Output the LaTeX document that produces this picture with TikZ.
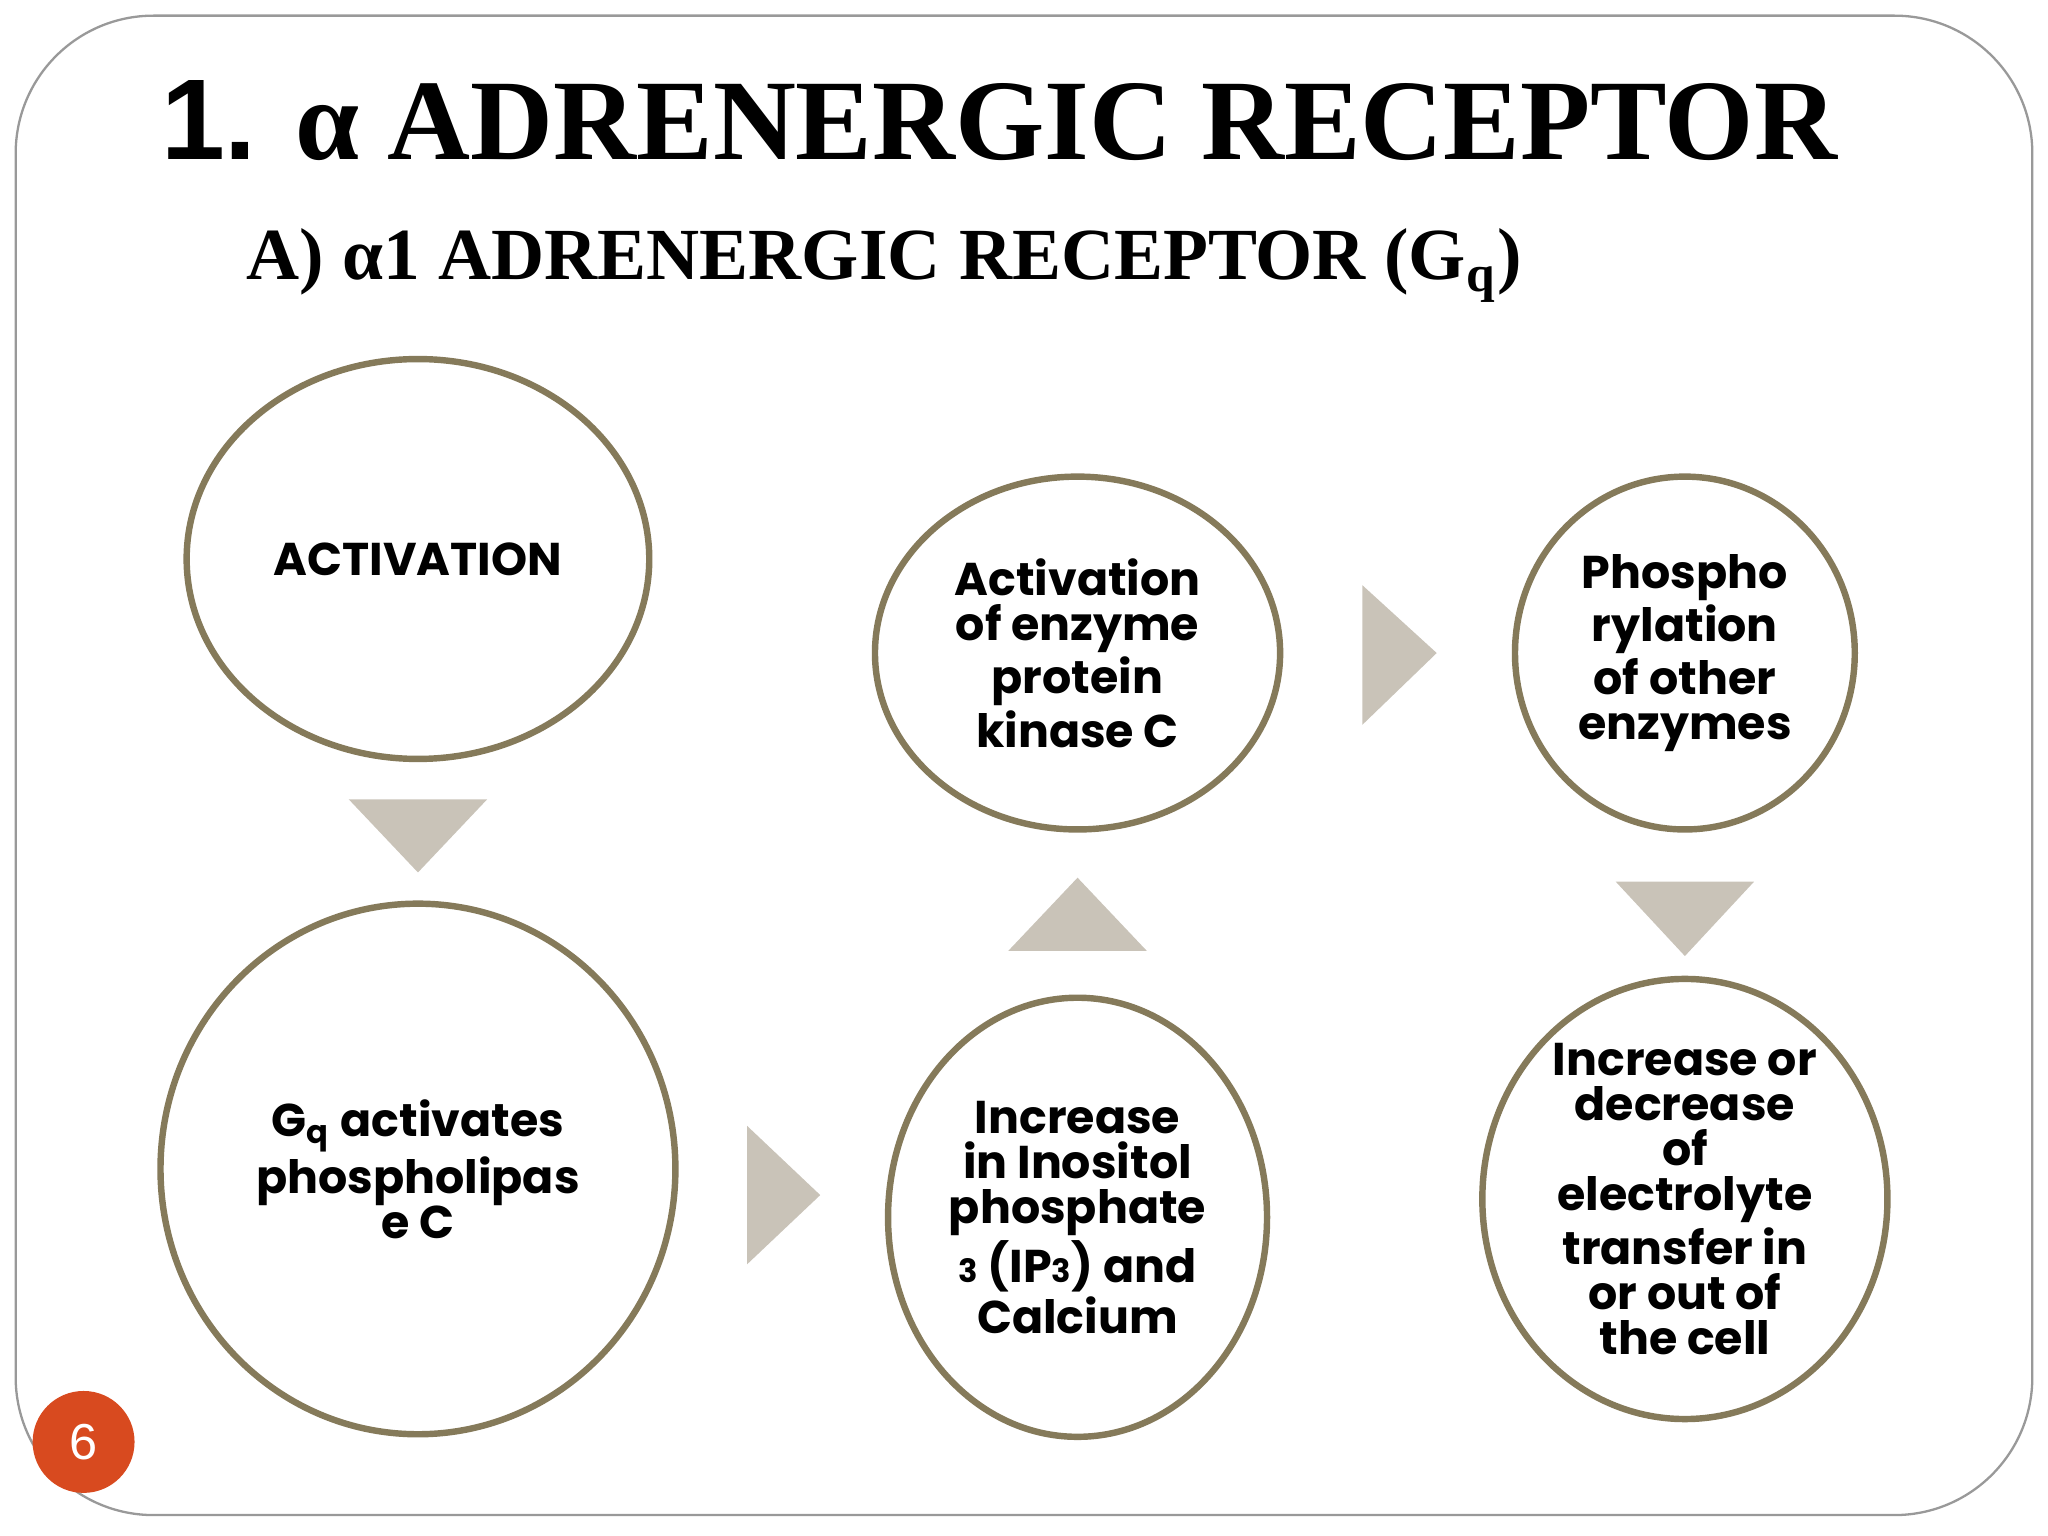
\documentclass[tikz,border=0pt]{standalone}
\usepackage{fontspec}
\setmainfont{Liberation Serif}
\setsansfont{Liberation Sans}
\newfontfamily\cg{Poppins Bold}
\usetikzlibrary{shapes.geometric}
\definecolor{ring}{HTML}{857A5A}
\definecolor{tri}{HTML}{C9C3B8}
\definecolor{pg}{HTML}{D84A1F}
\tikzset{
 bub/.style={ellipse,draw=ring,line width=1.4pt,fill=white,inner sep=0pt,align=center,
   font=\cg\fontsize{10}{9.8}\selectfont},
 arr/.style={fill=tri,draw=none}
}
\begin{document}
\begin{tikzpicture}[x=0.01cm,y=0.01cm]
\useasboundingbox (0,0) rectangle (1568,1176);
\draw[gray!80,line width=0.5pt,rounded corners=30] (12,16) rectangle (1556,1164);
\node (title) at (765,1084) {\bfseries\fontsize{25}{26}\selectfont {\sffamily 1.} α ADRENERGIC RECEPTOR};
\node[anchor=west,inner sep=0pt] (sub) at (188,973) {\bfseries\fontsize{16}{18}\selectfont A) α1 ADRENERGIC RECEPTOR (G\textsubscript{q})};
\node[bub,minimum width=3.54cm,minimum height=3.06cm] (c1) at (320,748) {ACTIVATION};
\node[bub,minimum width=3.94cm,minimum height=4.06cm] (c2) at (320,281) {G\textsubscript{q} activates\\phospholipas\\e C};
\node[bub,minimum width=3.10cm,minimum height=2.70cm] (c3) at (825,676) {Activation\\of enzyme\\protein\\kinase C};
\node[bub,minimum width=2.90cm,minimum height=3.36cm] (c4) at (825,244) {Increase\\in Inositol\\phosphate\\{\scriptsize 3} (IP{\scriptsize 3}) and\\Calcium};
\node[bub,minimum width=2.60cm,minimum height=2.70cm] (c5) at (1290,676) {Phospho\\rylation\\of other\\enzymes};
\node[bub,minimum width=3.10cm,minimum height=3.06cm] (c6) at (1290,258) {Increase or\\decrease\\of\\electrolyte\\transfer in\\or out of\\the cell};
\fill[arr] (267,564) -- (373,564) -- (320,508) -- cycle;
\fill[arr] (572,314) -- (628,261) -- (572,208) -- cycle;
\fill[arr] (772,448) -- (878,448) -- (825,504) -- cycle;
\fill[arr] (1043,728) -- (1100,676) -- (1043,621) -- cycle;
\fill[arr] (1237,501) -- (1343,501) -- (1290,444) -- cycle;
\node[circle,fill=pg,minimum size=0.78cm,text=white,font=\sffamily\fontsize{11}{12}\selectfont] (pg) at (64,72) {6};
\end{tikzpicture}
\end{document}
